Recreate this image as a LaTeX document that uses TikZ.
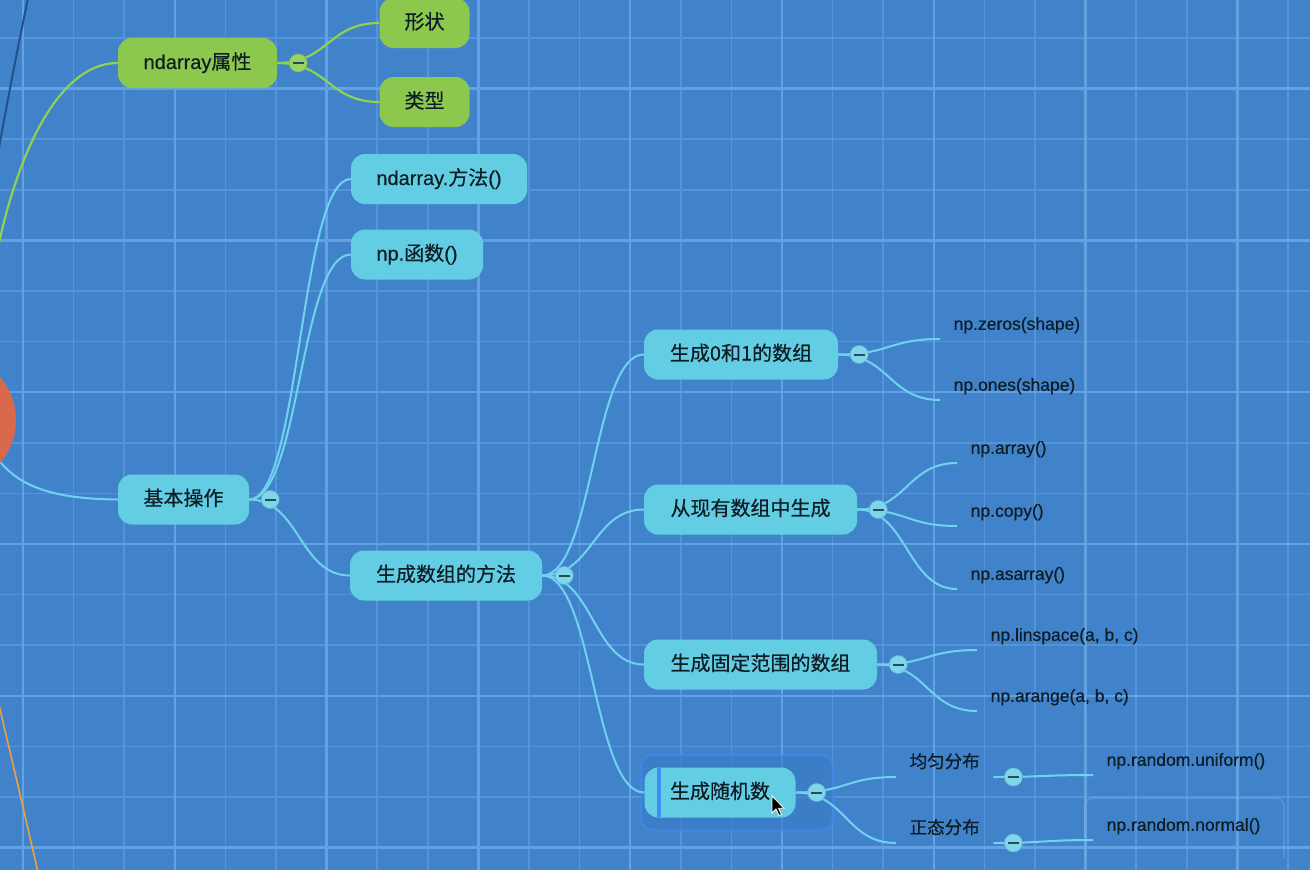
\documentclass[tikz,border=0pt]{standalone}
\usepackage{fontspec}
\setmainfont[FakeBold=0.35]{Liberation Sans}
\newfontfamily\cjk[FakeBold=0.45]{Noto Sans CJK SC}
\usetikzlibrary{calc}
\definecolor{bg}{HTML}{4083CB}
\definecolor{gminor}{HTML}{5594DA}
\definecolor{gmajor}{HTML}{64A1E3}
\definecolor{tealnode}{HTML}{62CDE3}
\definecolor{tealline}{HTML}{6FD3EE}
\definecolor{tealfold}{HTML}{7DD6EA}
\definecolor{greennode}{HTML}{8CC84E}
\definecolor{greenline}{HTML}{8FD150}
\definecolor{greenfold}{HTML}{9AD264}
\definecolor{txt}{HTML}{0E1C24}
\definecolor{minuscol}{HTML}{2A4A5C}
\definecolor{rootred}{HTML}{D9694C}
\definecolor{darkline}{HTML}{23508E}
\definecolor{orangeline}{HTML}{E9A23B}
\definecolor{selline}{HTML}{3F8DF0}
\definecolor{selfill}{HTML}{3979C4}
\newcommand\zhs[1]{{\cjk #1}}
\newcommand\conn[3][tline]{\draw[#1] let \p1=(#2), \p2=(#3), \n1={0.5*(\x2-\x1)} in (\p1) .. controls +(\n1,0) and +(-\n1,0) .. (\p2);}
\tikzset{
  box/.style={rounded corners=14pt, minimum height=50pt, inner sep=0pt, text height=15pt, text depth=3pt, font=\fontsize{20}{24}\selectfont, text=txt},
  tbox/.style={box, fill=tealnode},
  gbox/.style={box, fill=greennode},
  leaf/.style={anchor=south west, inner xsep=13.5pt, inner ysep=0pt, minimum height=28pt, text height=13.5pt, text depth=3.5pt, font=\fontsize{17.5}{21}\selectfont, text=txt},
  tline/.style={draw=tealline, line width=2pt},
  gline/.style={draw=greenline, line width=2.2pt},
  fold/.style={circle, minimum size=18pt, inner sep=0pt, fill=#1, draw=#1!85!black, line width=0.6pt,
    path picture={\draw[minuscol, line width=2pt] ([xshift=-5.5pt]path picture bounding box.center) -- ([xshift=5.5pt]path picture bounding box.center);}},
  gridminor/.style={draw=gminor, line width=1.5pt},
  gridmajor/.style={draw=gmajor, line width=2.4pt},
}
\begin{document}
\begin{tikzpicture}[x=1pt, y=-1pt]
\useasboundingbox (0,0) rectangle (1310,870);
\clip (0,0) rectangle (1310,870);
\fill[bg] (0,0) rectangle (1310,870);
% grid
\foreach \i in {0,...,25} \draw[gridminor] ({23+50.6*\i},0) -- ({23+50.6*\i},870);
\foreach \j in {-1,...,16} \draw[gridminor] (0,{38+50.6*\j}) -- (1310,{38+50.6*\j});
\foreach \i in {0,3,...,24} \draw[gridmajor] ({23+50.6*\i},0) -- ({23+50.6*\i},870);
\foreach \j in {1,4,...,16} \draw[gridmajor] (0,{38+50.6*\j}) -- (1310,{38+50.6*\j});

% root
\node[circle, fill=rootred, minimum size=132pt, inner sep=0pt] (root) at (-50,420) {};
\coordinate (offtop) at (32,-20);
\coordinate (offbot) at (42,890);

% selection highlights
\path[fill=selfill, fill opacity=0.6, draw=selline, draw opacity=0.5, line width=3pt, rounded corners=12pt] (641,755) rectangle (833,830);
\path[draw=selline!60!white, draw opacity=0.25, line width=2pt, rounded corners=8pt] (1085,858) -- (1085,798) -- (1284,798) -- (1284,858);

% boxes
\node[gbox, minimum width=159pt] (nd) at (197.5,63) {ndarray\zhs{属性}};
\node[gbox, minimum width=90pt] (xz) at (424.5,23) {\zhs{形状}};
\node[gbox, minimum width=90pt] (lx) at (424.5,102) {\zhs{类型}};
\node[tbox, minimum width=176pt] (ff) at (439,179) {ndarray.\zhs{方法}()};
\node[tbox, minimum width=132pt] (hs) at (417,254.5) {np.\zhs{函数}()};
\node[tbox, minimum width=131pt] (jb) at (183.5,499.5) {\zhs{基本操作}};
\node[tbox, minimum width=192pt] (sc) at (446,575.5) {\zhs{生成数组的方法}};
\node[tbox, minimum width=194pt] (g01) at (741,354.5) {\zhs{生成0和1的数组}};
\node[tbox, minimum width=213pt] (cx) at (750.5,509.5) {\zhs{从现有数组中生成}};
\node[tbox, minimum width=233pt] (gd) at (760.5,664.5) {\zhs{生成固定范围的数组}};
\node[tbox, minimum width=151pt] (sj) at (720,792.5) {\zhs{生成随机数}};
\fill[selline] (656.5,768) rectangle (660.5,817);

% leaves
\node[leaf] (zeros) at (940,339) {np.zeros(shape)};
\node[leaf] (ones) at (940,400) {np.ones(shape)};
\node[leaf] (arr) at (957,463) {np.array()};
\node[leaf] (cpy) at (957,526) {np.copy()};
\node[leaf] (asarr) at (957,589) {np.asarray()};
\node[leaf] (lins) at (977,650) {np.linspace(a, b, c)};
\node[leaf] (arng) at (977,711) {np.arange(a, b, c)};
\node[leaf] (jy) at (896,777) {\zhs{均匀分布}};
\node[leaf] (zt) at (896,843) {\zhs{正态分布}};
\node[leaf] (uni) at (1093,775) {np.random.uniform()};
\node[leaf] (nor) at (1093,840) {np.random.normal()};

% connectors from root
\draw[gline] (nd.west) .. controls (45,63) and (-5,200) .. (root.62);
\draw[tline] (jb.west) .. controls (50,499) and (20,485) .. (root.-40);
\draw[draw=darkline, line width=2pt] (root.78) .. controls (-20,250) and (10,80) .. (offtop);
\draw[draw=orangeline, line width=1.6pt] (root.-80) .. controls (-35,580) and (-10,660) .. (offbot);

% connectors
\conn[gline]{nd.east}{xz.west}
\conn[gline]{nd.east}{lx.west}
\conn{jb.east}{ff.west}
\conn{jb.east}{hs.west}
\conn{jb.east}{sc.west}
\conn{sc.east}{g01.west}
\conn{sc.east}{cx.west}
\conn{sc.east}{gd.west}
\conn{sc.east}{sj.west}
\conn{g01.east}{zeros.south west}
\conn{g01.east}{ones.south west}
\conn{cx.east}{arr.south west}
\conn{cx.east}{cpy.south west}
\conn{cx.east}{asarr.south west}
\conn{gd.east}{lins.south west}
\conn{gd.east}{arng.south west}
\conn{sj.east}{jy.south west}
\conn{sj.east}{zt.south west}
\conn{jy.south east}{uni.south west}
\conn{zt.south east}{nor.south west}

% fold circles
\node[fold=greenfold] (fnd) at ([xshift=21pt]nd.east) {};
\node[fold=tealfold] (fjb) at ([xshift=21pt]jb.east) {};
\node[fold=tealfold] (fsc) at ([xshift=22pt]sc.east) {};
\node[fold=tealfold] (fg01) at ([xshift=21pt]g01.east) {};
\node[fold=tealfold] (fcx) at ([xshift=21pt]cx.east) {};
\node[fold=tealfold] (fgd) at ([xshift=21pt]gd.east) {};
\node[fold=tealfold] (fsj) at ([xshift=21pt]sj.east) {};
\node[fold=tealfold] (fjy) at ([xshift=20pt]jy.south east) {};
\node[fold=tealfold] (fzt) at ([xshift=20pt]zt.south east) {};

% mouse pointer
\fill[black, draw=white, line width=0.8pt] (772,796) -- ++(0,17) -- ++(4,-4) -- ++(3,6.5) -- ++(2.5,-1) -- ++(-3,-6.2) -- ++(5.5,0) -- cycle;
\end{tikzpicture}
\end{document}
